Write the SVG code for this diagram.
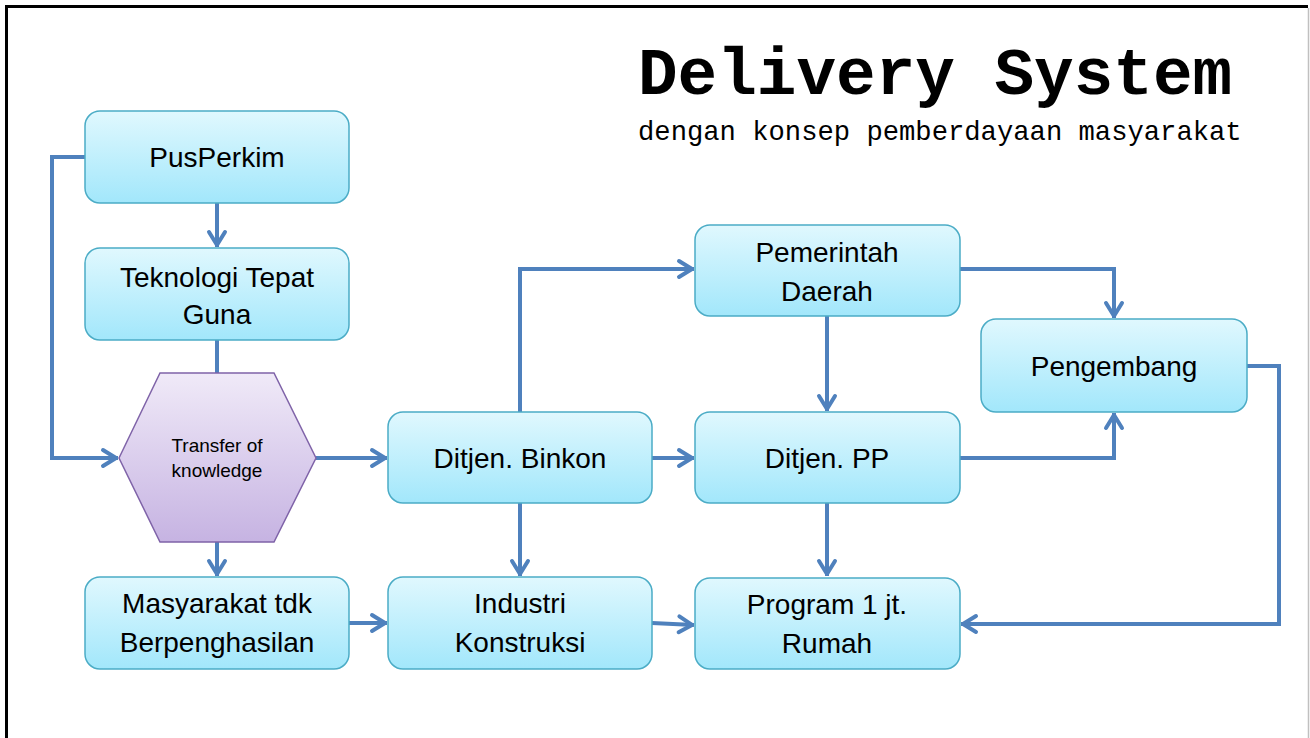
<svg xmlns="http://www.w3.org/2000/svg" width="1310" height="738" viewBox="0 0 1310 738">
<defs>
<linearGradient id="gBlue" x1="0" y1="0" x2="0" y2="1">
<stop offset="0" stop-color="#e0f8fe"/>
<stop offset="1" stop-color="#a2e7fb"/>
</linearGradient>
<linearGradient id="gPurple" x1="0" y1="0" x2="0" y2="1">
<stop offset="0" stop-color="#f0eaf8"/>
<stop offset="1" stop-color="#c6b3e2"/>
</linearGradient>
<marker id="arr" markerUnits="userSpaceOnUse" viewBox="-18 -11 20 22" refX="0" refY="0" markerWidth="20" markerHeight="22" orient="auto" overflow="visible">
<path d="M-15,-8 L-2,0 L-15,8" fill="none" stroke="#4f81bd" stroke-width="4" stroke-linecap="round" stroke-linejoin="round"/>
</marker>
</defs>
<style>
.box{fill:url(#gBlue);stroke:#4bacc6;stroke-width:1.5}
.hex{fill:url(#gPurple);stroke:#7f63a8;stroke-width:1.5}
.t{font-family:"Liberation Sans",Arial,sans-serif;font-size:28px;fill:#000;text-anchor:middle}
.ts{font-family:"Liberation Sans",Arial,sans-serif;font-size:19px;fill:#000;text-anchor:middle}
.c{fill:none;stroke:#4f81bd;stroke-width:4}
.a{marker-end:url(#arr)}
.title{font-family:"Liberation Mono","Courier New",monospace;font-weight:bold;font-size:66px;fill:#000}
.sub{font-family:"Liberation Mono","Courier New",monospace;font-size:27.2px;fill:#000}
</style>
<rect x="0" y="0" width="1310" height="738" fill="#fff"/>
<path d="M6.5,740 V6.5 H1308" fill="none" stroke="#000" stroke-width="3"/>
<line x1="1308.5" y1="8" x2="1308.5" y2="738" stroke="#c0c0c0" stroke-width="1.5"/>

<g id="title">
<text class="title" x="638" y="94">Delivery System</text>
<text class="sub" x="638" y="140">dengan konsep pemberdayaan masyarakat</text>
</g>

<g id="connectors">
<path class="c a" d="M217,203 V247"/>
<path class="c" d="M217,340 V373"/>
<path class="c a" d="M85,157 H52 V458 H118"/>
<path class="c a" d="M217,542 V576"/>
<path class="c a" d="M316,458 H387"/>
<path class="c a" d="M520,412 V269 H694"/>
<path class="c a" d="M652,458 H694"/>
<path class="c a" d="M520,503 V576"/>
<path class="c a" d="M349,623 H387"/>
<path class="c a" d="M652,623 L694,625"/>
<path class="c a" d="M827,316 V411"/>
<path class="c a" d="M827,503 V576"/>
<path class="c a" d="M960,269 H1114 V318"/>
<path class="c a" d="M960,458 H1114 V413"/>
<path class="c a" d="M1247,366 H1279 V624 H961"/>
</g>

<g id="pusperkim">
<rect class="box" x="85" y="111" width="264" height="92" rx="15"/>
<text class="t" x="217" y="167">PusPerkim</text>
</g>
<g id="teknologi">
<rect class="box" x="85" y="248" width="264" height="92" rx="15"/>
<text class="t" x="217" y="287">Teknologi Tepat</text>
<text class="t" x="217" y="324">Guna</text>
</g>
<g id="transfer">
<polygon class="hex" points="119,458 160,373 274,373 316,458 274,542 160,542"/>
<text class="ts" x="217" y="452">Transfer of</text>
<text class="ts" x="217" y="477">knowledge</text>
</g>
<g id="masyarakat">
<rect class="box" x="85" y="577" width="264" height="92" rx="15"/>
<text class="t" x="217" y="613">Masyarakat tdk</text>
<text class="t" x="217" y="652">Berpenghasilan</text>
</g>
<g id="binkon">
<rect class="box" x="388" y="412" width="264" height="91" rx="15"/>
<text class="t" x="520" y="468">Ditjen. Binkon</text>
</g>
<g id="industri">
<rect class="box" x="388" y="577" width="264" height="92" rx="15"/>
<text class="t" x="520" y="613">Industri</text>
<text class="t" x="520" y="652">Konstruksi</text>
</g>
<g id="pemda">
<rect class="box" x="695" y="225" width="265" height="91" rx="15"/>
<text class="t" x="827" y="262">Pemerintah</text>
<text class="t" x="827" y="301">Daerah</text>
</g>
<g id="ditjenpp">
<rect class="box" x="695" y="412" width="265" height="91" rx="15"/>
<text class="t" x="827" y="468">Ditjen. PP</text>
</g>
<g id="program">
<rect class="box" x="695" y="578" width="265" height="91" rx="15"/>
<text class="t" x="827" y="614">Program 1 jt.</text>
<text class="t" x="827" y="653">Rumah</text>
</g>
<g id="pengembang">
<rect class="box" x="981" y="319" width="266" height="93" rx="15"/>
<text class="t" x="1114" y="376">Pengembang</text>
</g>
</svg>
